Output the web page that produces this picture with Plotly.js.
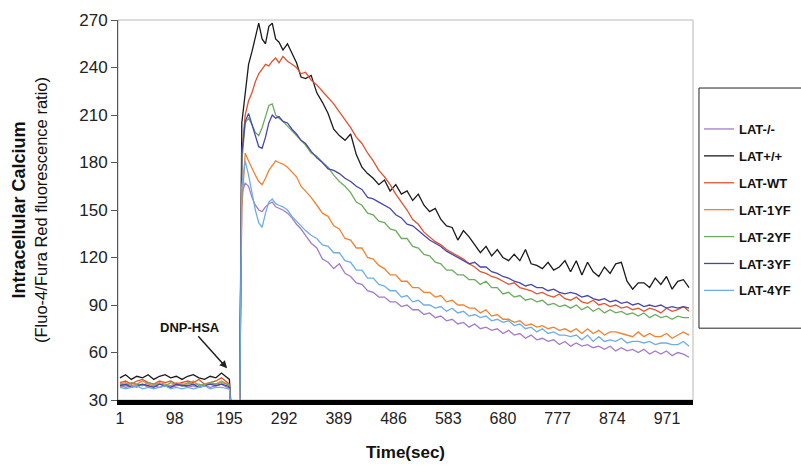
<!DOCTYPE html>
<html>
<head>
<meta charset="utf-8">
<script src="https://cdn.plot.ly/plotly-3.0.1.min.js"></script>
<style>html,body{margin:0;padding:0;background:#fff;}#chart{width:801px;height:466px;}</style>
</head>
<body>
<div id="chart"></div>
<script>
// Time (sec)
const timeSec = [1,11,21,31,41,51,61,71,81,91,101,111,121,131,141,151,161,171,181,191,
195,199,213,217,
223,229,235,241,247,253,259,265,271,277,283,
290,298,306,314,322,
330,340,350,360,370,380,390,400,410,420,
430,440,450,460,470,480,490,500,510,520,
530,540,550,560,570,580,590,600,610,620,
630,640,650,660,670,680,690,700,710,720,
730,740,750,760,770,780,790,800,810,820,
830,840,850,860,870,880,890,900,910,920,
930,940,950,960,970,980,990,1000,1010];

const latKO = [39,38,39,38,40,38,39,38,39,38,39,40,38,39,38,39,38,39,40,38,
38,20,20,160,
167,165,158,153,150,149,152,154,155,152,151,
150,148,145,141,138,
134,129,126,119,117,113,116,110,108,104,
103,99,98,95,95,92,92,89,90,87,
87,84,85,82,83,80,81,78,79,76,
78,75,76,74,75,72,74,71,72,69,
71,68,69,67,68,65,67,64,66,64,
65,63,64,62,64,61,63,61,62,60,
62,59,61,59,61,58,60,59,57];

const latPos = [44,46,43,45,44,46,43,45,46,44,45,43,45,46,44,43,45,44,47,44,
43,20,20,205,
224,242,250,259,268,258,255,266,268,258,256,
251,255,249,243,234,
233,235,224,218,211,201,197,194,198,185,
177,173,170,166,169,162,166,160,162,156,
160,153,149,151,144,140,139,131,137,133,
128,123,127,121,125,120,118,122,118,125,
116,115,113,117,112,114,118,111,118,109,
117,111,108,114,110,116,117,105,100,104,
104,101,107,103,108,100,105,106,101];

const latWT = [41,42,40,42,43,41,40,42,41,42,40,41,42,41,43,40,41,42,44,41,
40,20,20,185,
210,219,224,231,236,239,242,241,244,246,243,
247,244,242,240,236,
237,232,229,225,221,217,212,207,202,196,
192,186,181,175,171,166,160,155,150,144,
141,136,133,130,128,125,123,121,119,116,
114,111,110,108,107,105,103,104,101,100,
99,97,98,96,95,97,94,93,95,92,
91,93,90,91,89,90,88,89,87,88,
86,88,87,85,88,86,87,89,86];

const lat1YF = [40,41,39,40,42,40,39,41,40,39,41,40,40,42,39,40,41,40,42,40,
39,20,20,150,
186,181,176,172,168,166,170,175,178,181,180,
179,177,174,171,165,
162,158,153,148,146,140,138,132,131,126,
126,120,119,115,113,109,109,105,105,101,
101,98,98,95,96,92,93,90,90,88,
88,85,87,83,84,81,81,79,80,77,
78,76,77,75,76,74,75,73,75,72,
75,72,74,71,73,73,72,71,70,73,
70,72,70,70,72,69,71,73,71];

const lat2YF = [40,39,41,40,39,41,40,40,39,41,40,39,41,40,40,39,41,40,41,40,
39,20,20,180,
205,208,204,199,197,202,209,216,217,210,208,
206,203,200,197,194,
191,186,184,180,177,172,168,165,161,155,
153,148,147,143,142,138,137,132,132,127,
126,122,121,117,116,112,112,109,109,106,
106,103,105,101,101,97,98,95,96,93,
94,92,93,90,91,89,90,88,90,87,
89,86,88,85,87,85,86,84,85,83,
85,82,84,82,83,81,83,82,82];

const lat3YF = [39,40,38,39,40,39,38,40,39,38,40,39,39,40,38,39,40,39,40,39,
38,20,20,185,
206,211,204,196,190,189,196,205,210,208,209,
206,205,201,198,194,
192,187,183,180,176,175,173,170,168,165,
163,158,157,155,153,151,147,145,141,140,
137,134,131,129,127,124,122,120,118,116,
117,114,114,111,110,108,107,105,104,102,
103,101,101,99,100,98,97,98,97,95,
96,94,93,94,92,93,91,92,90,91,
89,90,89,90,88,89,88,89,88];

const lat4YF = [38,37,38,39,37,38,37,38,39,37,38,37,38,37,38,39,37,38,38,37,
37,20,20,165,
181,172,160,150,142,139,148,155,157,154,153,
152,150,146,143,140,
137,134,132,128,127,123,123,118,117,112,
112,107,107,103,102,99,99,95,96,92,
93,90,90,88,89,86,88,85,86,83,
84,82,83,80,81,79,80,77,78,75,
76,73,75,72,73,71,71,70,71,68,
71,67,70,67,68,67,69,66,67,67,
66,67,65,66,66,65,65,67,64];

const seriesNames = ['LAT-/-','LAT+/+','LAT-WT','LAT-1YF','LAT-2YF','LAT-3YF','LAT-4YF'];
const seriesValues = [latKO, latPos, latWT, lat1YF, lat2YF, lat3YF, lat4YF];
const seriesColors = ['#a47cc8','#1a1a1a','#e2532e','#f28232','#6aad5c','#4646ad','#6eaee2'];

const yTicks = [30,60,90,120,150,180,210,240,270];
const xTicks = [1,98,195,292,389,486,583,680,777,874,971];

const traces = seriesNames.map((n,i)=>({
  type:'scatter', mode:'lines', name:n, x:timeSec, y:seriesValues[i],
  legendgroup:'g'+i,
  line:{color:seriesColors[i], width:1.3}
}));

const font = "'Liberation Sans', Arial, sans-serif";
const layout = {
  width:801, height:466,
  margin:{l:118, r:108, t:20, b:66, autoexpand:false},
  paper_bgcolor:'#fff', plot_bgcolor:'#fff',
  font:{family:font, color:'#222'},
  showlegend:true,
  legend:{x:1.0104, xanchor:'left', y:0.7526, yanchor:'top',
    bgcolor:'rgba(0,0,0,0)', borderwidth:0,
    font:{size:13, color:'#111', family:font, weight:'bold'},
    tracegroupgap:7},
  xaxis:{range:[-2.5,1017], tickvals:xTicks, ticktext:xTicks.map(String),
    showgrid:false, zeroline:false, showline:true, linecolor:'#000', linewidth:5,
    ticks:'', tickfont:{size:16, color:'#222'},
    title:{text:'<b>Time(sec)</b>', font:{size:17, color:'#111'}, standoff:21}},
  yaxis:{range:[30,270], tickvals:yTicks, showgrid:false, zeroline:false,
    showline:true, linecolor:'#555', linewidth:1, ticks:'outside', ticklen:6, tickcolor:'#555',
    tickfont:{size:17, color:'#222'},
    title:{text:'<span style="font-size:18px;font-weight:bold">Intracellular Calcium</span><br>(Fluo-4/Fura Red fluorescence ratio)',
      font:{size:16.5, color:'#111'}, standoff:27}},
  shapes:[
    {type:'rect', xref:'paper', yref:'paper', x0:0, x1:1, y0:0, y1:1,
      line:{color:'#b8b8b8', width:1}, layer:'below'},
    {type:'rect', xref:'paper', yref:'paper', x0:1.0104, x1:1.2, y0:0.189, y1:0.821,
      line:{color:'#222', width:1}, fillcolor:'#fff', layer:'below'}
  ],
  annotations:[{x:191, y:50, xref:'x', yref:'y', text:'<b>DNP-HSA</b>',
    showarrow:true, arrowhead:2, arrowsize:1, arrowwidth:1.5, arrowcolor:'#222',
    ax:-37, ay:-41, font:{size:13, color:'#111'}}]
};

Plotly.newPlot('chart', traces, layout, {displayModeBar:false, staticPlot:true});
</script>
</body>
</html>
